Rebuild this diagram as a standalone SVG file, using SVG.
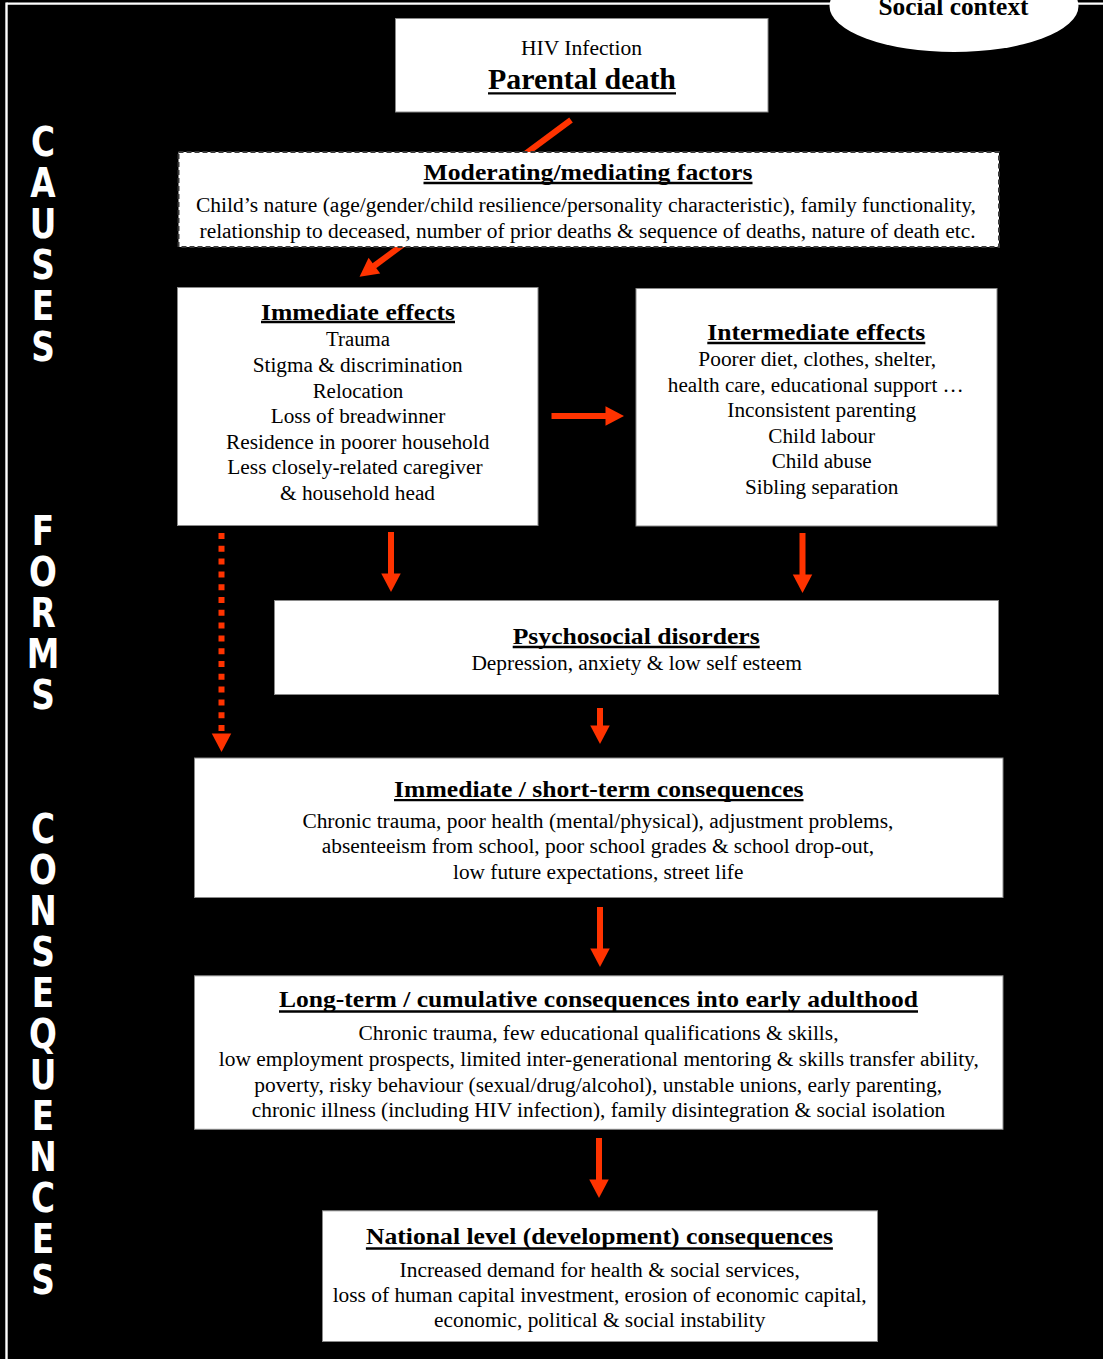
<svg xmlns="http://www.w3.org/2000/svg" width="1103" height="1359" viewBox="0 0 1103 1359">
  <style>
    .box { fill: #ffffff; stroke: #8a8a8a; stroke-width: 1; }
    .dash { fill: #ffffff; stroke: #3a3a3a; stroke-width: 2; stroke-dasharray: 5 3; }
    .t { font-family: "Liberation Serif", "Times New Roman", serif; fill: #000; text-anchor: middle; }
    .h { font-weight: bold; font-size: 24px; }
    .b { font-size: 20px; }
    .ul { stroke: #000; stroke-width: 2.3; }
    .side { font-family: "DejaVu Sans", Verdana, sans-serif; font-weight: bold; font-size: 40px; fill: #fff; text-anchor: middle; }
    .arr { stroke: #ff3300; stroke-width: 6; fill: none; }
    .dot { stroke: #ff3300; stroke-width: 6; fill: none; stroke-dasharray: 6 6.8; }
  </style>
  <defs>
    <marker id="head" markerUnits="userSpaceOnUse" markerWidth="19" markerHeight="20" refX="0.5" refY="9.75" orient="auto" overflow="visible">
      <path d="M0,0 L18.5,9.75 L0,19.5 Z" fill="#ff3300"/>
    </marker>
  </defs>

  <!-- page background and frame -->
  <rect x="0" y="0" width="1103" height="1359" fill="#000"/>
  <line x1="6.5" y1="3.7" x2="1103" y2="3.7" stroke="#fff" stroke-width="2.2"/>
  <line x1="6.5" y1="2.6" x2="6.5" y2="1359" stroke="#fff" stroke-width="2.4"/>

  <!-- vertical section labels, one letter per row -->
  <g id="labels" transform="translate(43 0) scale(0.82 1)">
    <text id="label-causes" class="side"><tspan x="0" y="156">C</tspan><tspan x="0" y="197">A</tspan><tspan x="0" y="238">U</tspan><tspan x="0" y="279">S</tspan><tspan x="0" y="320">E</tspan><tspan x="0" y="361">S</tspan></text>
    <text id="label-forms" class="side"><tspan x="0" y="545">F</tspan><tspan x="0" y="586">O</tspan><tspan x="0" y="627">R</tspan><tspan x="0" y="668">M</tspan><tspan x="0" y="709">S</tspan></text>
    <text id="label-consequences" class="side"><tspan x="0" y="843">C</tspan><tspan x="0" y="884">O</tspan><tspan x="0" y="925">N</tspan><tspan x="0" y="966">S</tspan><tspan x="0" y="1007">E</tspan><tspan x="0" y="1048">Q</tspan><tspan x="0" y="1089">U</tspan><tspan x="0" y="1130">E</tspan><tspan x="0" y="1171">N</tspan><tspan x="0" y="1212">C</tspan><tspan x="0" y="1253">E</tspan><tspan x="0" y="1294">S</tspan></text>
  </g>

  <!-- social context badge -->
  <g id="social-context">
    <ellipse cx="954" cy="6" rx="124.5" ry="46" fill="#fff"/>
    <text class="t" x="953.5" y="15" font-size="25" font-weight="bold" textLength="150" lengthAdjust="spacingAndGlyphs">Social context</text>
  </g>

  <!-- connectors -->
  <g id="connectors">
    <line class="arr" x1="571" y1="120" x2="374" y2="266" marker-end="url(#head)"/>
    <line class="arr" x1="551.5" y1="416" x2="606" y2="416" marker-end="url(#head)"/>
    <line class="arr" x1="391" y1="532" x2="391" y2="574" marker-end="url(#head)"/>
    <line class="arr" x1="802.5" y1="533" x2="802.5" y2="575" marker-end="url(#head)"/>
    <line class="dot" x1="221.5" y1="533" x2="221.5" y2="734" marker-end="url(#head)"/>
    <line class="arr" x1="600" y1="708" x2="600" y2="726" marker-end="url(#head)"/>
    <line class="arr" x1="600" y1="907" x2="600" y2="949" marker-end="url(#head)"/>
    <line class="arr" x1="599" y1="1138" x2="599" y2="1180" marker-end="url(#head)"/>
  </g>

  <!-- cause -->
  <g id="parental-death">
    <rect class="box" x="395.5" y="18.5" width="372.5" height="93.5"/>
    <text class="t b" x="581.5" y="55" textLength="121" lengthAdjust="spacingAndGlyphs">HIV Infection</text>
    <text class="t" x="582" y="89" font-size="30" font-weight="bold" textLength="188" lengthAdjust="spacingAndGlyphs">Parental death</text>
    <line class="ul" x1="488" y1="93.3" x2="676" y2="93.3"/>
  </g>

  <g id="moderating-factors">
    <rect class="dash" x="178.5" y="152" width="820.5" height="95"/>
    <text class="t h" x="588" y="180" textLength="329" lengthAdjust="spacingAndGlyphs">Moderating/mediating factors</text>
    <line class="ul" x1="423.5" y1="183" x2="752.5" y2="183"/>
    <text class="t b" x="586" y="212" textLength="780" lengthAdjust="spacingAndGlyphs">Child’s nature (age/gender/child resilience/personality characteristic), family functionality,</text>
    <text class="t b" x="587.5" y="237.5" textLength="776" lengthAdjust="spacingAndGlyphs">relationship to deceased, number of prior deaths &amp; sequence of deaths, nature of death etc.</text>
  </g>

  <!-- forms -->
  <g id="immediate-effects">
    <rect class="box" x="177.5" y="287.5" width="360.5" height="238"/>
    <text class="t h" x="358" y="319.5" textLength="194" lengthAdjust="spacingAndGlyphs">Immediate effects</text>
    <line class="ul" x1="261" y1="322" x2="455" y2="322"/>
    <text class="t b" x="358" y="345.7" textLength="64" lengthAdjust="spacingAndGlyphs">Trauma</text>
    <text class="t b" x="357.7" y="371.5" textLength="210" lengthAdjust="spacingAndGlyphs">Stigma &amp; discrimination</text>
    <text class="t b" x="358" y="397.5" textLength="90.7" lengthAdjust="spacingAndGlyphs">Relocation</text>
    <text class="t b" x="358" y="423" textLength="174.6" lengthAdjust="spacingAndGlyphs">Loss of breadwinner</text>
    <text class="t b" x="357.7" y="448.6" textLength="263.3" lengthAdjust="spacingAndGlyphs">Residence in poorer household</text>
    <text class="t b" x="355" y="474.3" textLength="255.4" lengthAdjust="spacingAndGlyphs">Less closely-related caregiver</text>
    <text class="t b" x="357.5" y="499.7" textLength="155" lengthAdjust="spacingAndGlyphs">&amp; household head</text>
  </g>

  <g id="intermediate-effects">
    <rect class="box" x="636" y="288.5" width="361" height="237.5"/>
    <text class="t h" x="816.3" y="340" textLength="218" lengthAdjust="spacingAndGlyphs">Intermediate effects</text>
    <line class="ul" x1="707.3" y1="343" x2="925.3" y2="343"/>
    <text class="t b" x="817.2" y="366" textLength="237.7" lengthAdjust="spacingAndGlyphs">Poorer diet, clothes, shelter,</text>
    <text class="t b" x="815.8" y="391.7" textLength="296" lengthAdjust="spacingAndGlyphs">health care, educational support …</text>
    <text class="t b" x="821.7" y="417.2" textLength="188.7" lengthAdjust="spacingAndGlyphs">Inconsistent parenting</text>
    <text class="t b" x="821.7" y="442.8" textLength="106.7" lengthAdjust="spacingAndGlyphs">Child labour</text>
    <text class="t b" x="821.7" y="468.4" textLength="100" lengthAdjust="spacingAndGlyphs">Child abuse</text>
    <text class="t b" x="821.7" y="493.8" textLength="153.3" lengthAdjust="spacingAndGlyphs">Sibling separation</text>
  </g>

  <g id="psychosocial-disorders">
    <rect class="box" x="274.5" y="600.5" width="724" height="94"/>
    <text class="t h" x="636.2" y="643.5" textLength="247" lengthAdjust="spacingAndGlyphs">Psychosocial disorders</text>
    <line class="ul" x1="512.7" y1="647" x2="759.7" y2="647"/>
    <text class="t b" x="636.6" y="670.2" textLength="330.4" lengthAdjust="spacingAndGlyphs">Depression, anxiety &amp; low self esteem</text>
  </g>

  <!-- consequences -->
  <g id="short-term-consequences">
    <rect class="box" x="194.5" y="758" width="808.5" height="139.5"/>
    <text class="t h" x="598.8" y="797" textLength="409.5" lengthAdjust="spacingAndGlyphs">Immediate / short-term consequences</text>
    <line class="ul" x1="394" y1="800.2" x2="803.5" y2="800.2"/>
    <text class="t b" x="597.9" y="827.6" textLength="591" lengthAdjust="spacingAndGlyphs">Chronic trauma, poor health (mental/physical), adjustment problems,</text>
    <text class="t b" x="597.9" y="853.3" textLength="552.2" lengthAdjust="spacingAndGlyphs">absenteeism from school, poor school grades &amp; school drop-out,</text>
    <text class="t b" x="598.2" y="878.5" textLength="290.3" lengthAdjust="spacingAndGlyphs">low future expectations, street life</text>
  </g>

  <g id="long-term-consequences">
    <rect class="box" x="194.5" y="975.8" width="808.5" height="153.5"/>
    <text class="t h" x="598.5" y="1007.3" textLength="639" lengthAdjust="spacingAndGlyphs">Long-term / cumulative consequences into early adulthood</text>
    <line class="ul" x1="279" y1="1011.5" x2="918" y2="1011.5"/>
    <text class="t b" x="598.5" y="1040" textLength="480" lengthAdjust="spacingAndGlyphs">Chronic trauma, few educational qualifications &amp; skills,</text>
    <text class="t b" x="598.8" y="1066" textLength="760" lengthAdjust="spacingAndGlyphs">low employment prospects, limited inter-generational mentoring &amp; skills transfer ability,</text>
    <text class="t b" x="598.2" y="1091.6" textLength="687.8" lengthAdjust="spacingAndGlyphs">poverty, risky behaviour (sexual/drug/alcohol), unstable unions, early parenting,</text>
    <text class="t b" x="598.5" y="1117" textLength="693.5" lengthAdjust="spacingAndGlyphs">chronic illness (including HIV infection), family disintegration &amp; social isolation</text>
  </g>

  <g id="national-consequences">
    <rect class="box" x="322.5" y="1210.8" width="555" height="130.7"/>
    <text class="t h" x="599.4" y="1244.2" textLength="467" lengthAdjust="spacingAndGlyphs">National level (development) consequences</text>
    <line class="ul" x1="365.9" y1="1248.5" x2="832.9" y2="1248.5"/>
    <text class="t b" x="599.7" y="1276.8" textLength="400.2" lengthAdjust="spacingAndGlyphs">Increased demand for health &amp; social services,</text>
    <text class="t b" x="599.7" y="1301.8" textLength="534" lengthAdjust="spacingAndGlyphs">loss of human capital investment, erosion of economic capital,</text>
    <text class="t b" x="599.7" y="1327" textLength="331.3" lengthAdjust="spacingAndGlyphs">economic, political &amp; social instability</text>
  </g>
</svg>
